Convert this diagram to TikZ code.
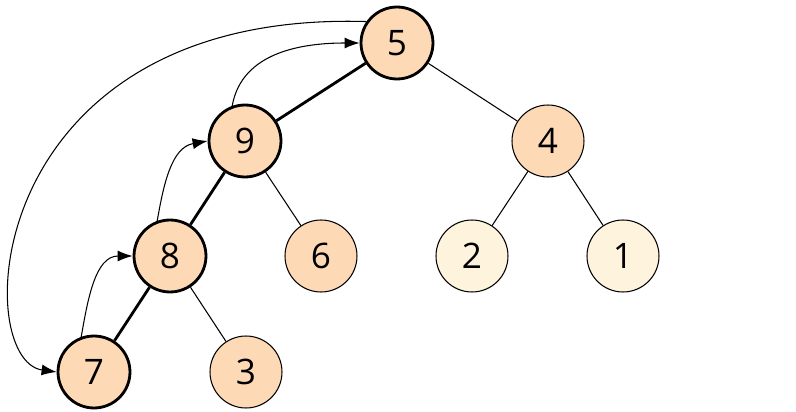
\documentclass[tikz,border=0pt]{standalone}
\usepackage{fontspec}
\setmainfont{Open Sans}
\usetikzlibrary{arrows.meta}
\definecolor{heapfill}{HTML}{FDD9B5}
\definecolor{leaffill}{HTML}{FEF3DC}
\tikzset{
	key/.style={circle, draw=black, fill=heapfill, minimum size=1.44cm, inner sep=0pt, font=\fontsize{20}{24}\selectfont},
	path key/.style={key, line width=1.6pt},
	light key/.style={key, fill=leaffill},
	swap/.style={-{Latex[length=3mm,width=2.2mm]}, semithick}
}
\begin{document}
\begin{tikzpicture}[x=0.02cm, y=-0.02cm, semithick]

	\useasboundingbox (0,0) rectangle (796,412);

	\node[path key] (n5) at (397,43) {5};
	\node[path key] (n9) at (245,141) {9};
	\node[key] (n4) at (548,141) {4};
	\node[path key] (n8) at (170,256) {8};
	\node[key] (n6) at (321,256) {6};
	\node[light key] (n2) at (472,256) {2};
	\node[light key] (n1) at (623,256) {1};
	\node[path key] (n7) at (94,372) {7};
	\node[key] (n3) at (246,372) {3};

	% tree edges
	\draw[line width=1.6pt] (n5) -- (n9) -- (n8) -- (n7);
	\draw (n5) -- (n4);
	\draw (n4) -- (n2);
	\draw (n4) -- (n1);
	\draw (n9) -- (n6);
	\draw (n8) -- (n3);

	% moves up the path
	\draw[swap] (n7.110) to[out=80, in=180] (n8.west);
	\draw[swap] (n8.110) to[out=80, in=190] (n9.west);
	\draw[swap] (n9.110) to[out=80, in=180] (n5.west);
	\draw[swap] (n5.145) .. controls (-20,10) and (-30,360) .. (n7.west);

\end{tikzpicture}
\end{document}
